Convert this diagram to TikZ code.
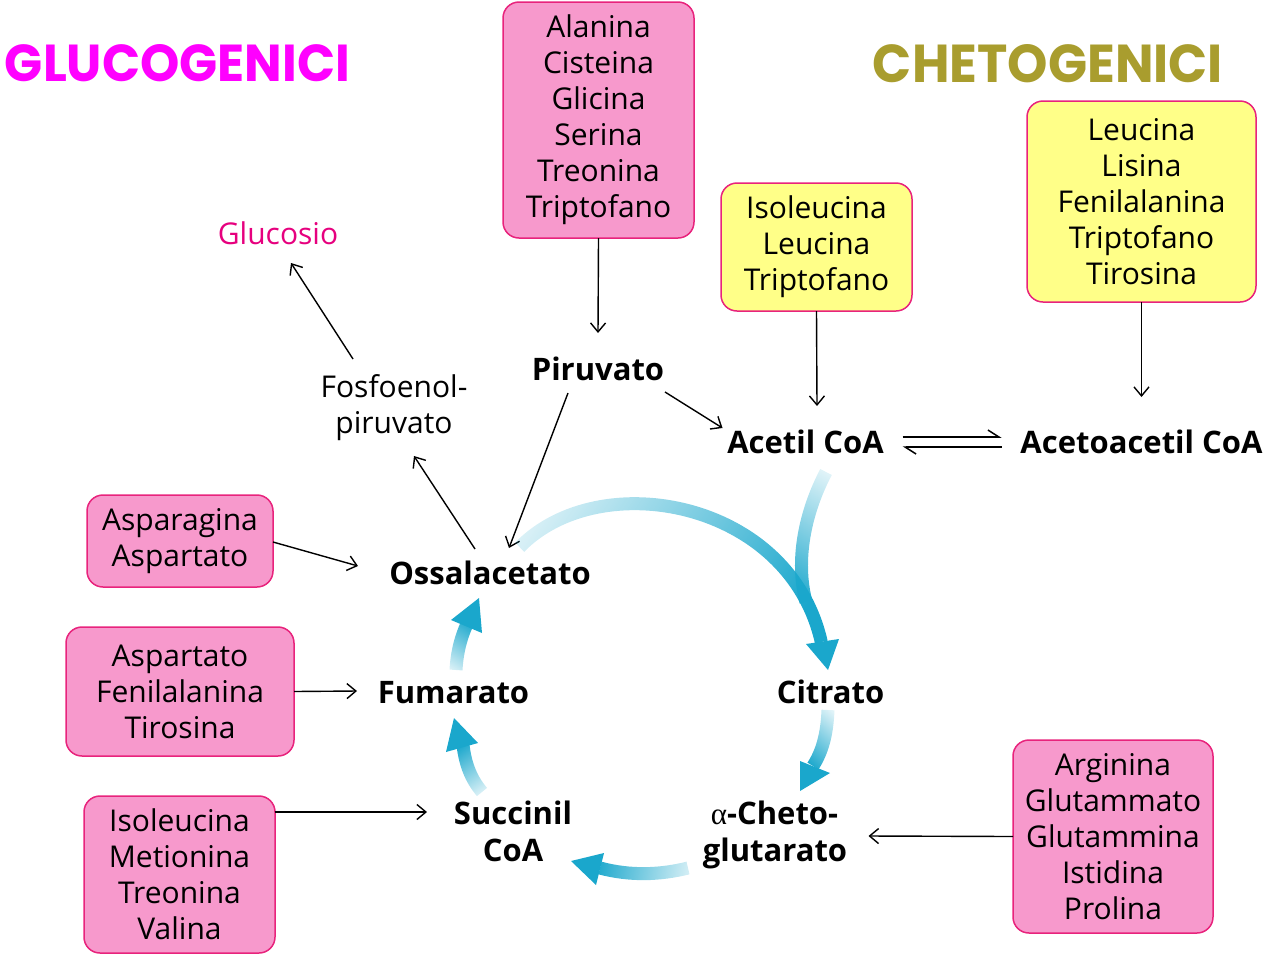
\documentclass[tikz,border=0pt]{standalone}
\usepackage{fontspec}
\usepackage{graphicx}
\setmainfont{Open Sans}
\newfontfamily\titlefont{Poppins}
\newfontfamily\alphafont{Liberation Serif}
\usetikzlibrary{arrows.meta,calc,fadings}
\definecolor{pinkfill}{HTML}{F799CC}
\definecolor{pinkline}{HTML}{E8237C}
\definecolor{yelfill}{HTML}{FFFF88}
\definecolor{glucol}{HTML}{E6007E}
\definecolor{chetcol}{HTML}{A99D2E}
\definecolor{glutcol}{HTML}{FF00FF}
\definecolor{cyc}{HTML}{1AA7CC}
\tikzfading[name=cycfade, left color=transparent!86, right color=transparent!0]
\begin{document}
\begin{tikzpicture}[x=1pt,y=-1pt,
  boxbase/.style={draw=pinkline, line width=1.5pt, rounded corners=16pt, inner sep=0pt, outer sep=0pt, align=center, font=\fontsize{30}{36}\selectfont},
  pinkbox/.style={boxbase, fill=pinkfill},
  yelbox/.style={boxbase, fill=yelfill},
  lbl/.style={inner sep=0pt, outer sep=0pt, anchor=base, font=\fontsize{30}{36}\selectfont},
  blbl/.style={inner sep=0pt, outer sep=0pt, anchor=base, font=\bfseries\fontsize{31}{37}\selectfont},
  thinarr/.style={line width=1.4pt, -{Straight Barb[length=9pt,width=15pt]}},
  harp/.style={line width=1.5pt, -{Straight Barb[left,length=11pt,width=14pt]}},
  cycshaft/.style={draw=cyc, line width=13pt, line cap=butt, path fading=cycfade},
  cychead/.style={fill=cyc, draw=none}
]
\useasboundingbox (0,0) rectangle (1266,954);

% titles
\node[inner sep=0pt, text=glutcol] (tg) at (177.5,63.5) {\resizebox{345pt}{37pt}{\titlefont\bfseries GLUCOGENICI}};
\node[inner sep=0pt, text=chetcol] (tc) at (1048,64) {\resizebox{350pt}{38pt}{\titlefont\bfseries CHETOGENICI}};

% boxes
\node[pinkbox, minimum width=191pt, minimum height=236pt] (b1) at (598.5,120) {Alanina\\Cisteina\\Glicina\\Serina\\Treonina\\Triptofano};
\node[yelbox, minimum width=191pt, minimum height=128pt] (y1) at (816.5,247) {Isoleucina\\Leucina\\Triptofano};
\node[yelbox, minimum width=229pt, minimum height=201pt] (y2) at (1141.5,201.5) {Leucina\\Lisina\\Fenilalanina\\Triptofano\\Tirosina};
\node[pinkbox, minimum width=186pt, minimum height=92pt] (b2) at (180,541) {Asparagina\\Aspartato};
\node[pinkbox, minimum width=228pt, minimum height=129pt] (b3) at (180,691.5) {Aspartato\\Fenilalanina\\Tirosina};
\node[pinkbox, minimum width=191pt, minimum height=157pt] (b4) at (179.5,874.5) {Isoleucina\\Metionina\\Treonina\\Valina};
\node[pinkbox, minimum width=200pt, minimum height=193pt] (b5) at (1113,836.5) {Arginina\\Glutammato\\Glutammina\\Istidina\\Prolina};

% labels
\node[lbl, text=glucol] (gluc) at (278,244) {Glucosio};
\node[lbl] (fos1) at (394,397) {Fosfoenol-};
\node[lbl] (fos2) at (394,433) {piruvato};
\node[blbl] (piruv) at (598,380) {Piruvato};
\node[blbl] (acetil) at (805.5,453) {Acetil CoA};
\node[blbl] (acetoac) at (1141.5,453) {Acetoacetil CoA};
\node[blbl] (ossal) at (490,584) {Ossalacetato};
\node[blbl] (fum) at (453.5,703) {Fumarato};
\node[blbl] (citr) at (830.5,703) {Citrato};
\node[blbl] (succ1) at (513,824) {Succinil};
\node[blbl] (succ2) at (513,861) {CoA};
\node[blbl] (chet1) at (774.5,824) {{\alphafont\mdseries α}-Cheto-};
\node[blbl] (chet2) at (775,861) {glutarato};

% thin arrows
\draw[thinarr] (b1.south) -- ($(piruv.base)+(0,-47)$);
\draw[thinarr] (y1.south) -- ($(acetil.base)+(11.5,-47)$);
\draw[thinarr] (y2.south) -- ($(acetoac.base)+(0,-56)$);
\draw[thinarr] ($(piruv.base)+(67,12)$) -- ($(acetil.base)+(-83,-25)$);
\draw[thinarr] ($(piruv.base)+(-30,13)$) -- ($(ossal.base)+(19,-36)$);
\draw[thinarr] ($(ossal.base)+(-15,-35)$) -- ($(fos2.base)+(20,23)$);
\draw[thinarr] ($(fos1.base)+(-41,-38)$) -- ($(gluc.base)+(13,19)$);
\draw[thinarr] ($(b2.east)+(0,1)$) -- ($(ossal.base)+(-132,-18)$);
\draw[thinarr] (b3.east) -- ($(fum.base)+(-96.5,-12)$);
\draw[thinarr] ($(b4.north east)+(0,16)$) -- ($(succ1.base)+(-86,-12)$);
\draw[thinarr] (b5.west) -- ($(chet1.base)+(94,12)$);

% equilibrium harpoons
\draw[harp] ($(acetil.base)+(97,-16)$) -- ($(acetoac.base)+(-140,-16)$);
\draw[harp] ($(acetoac.base)+(-140,-6)$) -- ($(acetil.base)+(97,-6)$);

% cycle arrows: faded shafts + solid heads
\coordinate (c0) at (520,547);
\coordinate (c1) at (822,642);
\coordinate (br0) at (826,472);
\coordinate (br1) at (806,602);
\coordinate (k0) at (828,710);
\coordinate (k1) at (813,766);
\coordinate (s0) at (688,868);
\coordinate (s1) at (600,868);
\coordinate (f0) at (482,792);
\coordinate (f1) at (463,745);
\coordinate (o0) at (456,670);
\coordinate (o1) at (467,624);

\draw[cycshaft, fading angle=-100] (br0) .. controls (805,512) and (795,560) .. (br1);
\draw[cycshaft, fading angle=-22] (c0) .. controls (600,465) and (790,500) .. (c1);
\fill[cychead] (828,670) -- (806,644) -- (839,639) -- cycle;

\draw[cycshaft, fading angle=-110] (k0) .. controls (827,735) and (822,752) .. (k1);
\fill[cychead] (800,791) -- (800,761) -- (830,773) -- cycle;

\draw[cycshaft, fading angle=178] (s0) .. controls (660,875) and (630,876) .. (s1);
\fill[cychead] (571,861) -- (604,853) -- (596,885) -- cycle;

\draw[cycshaft, fading angle=110] (f0) .. controls (470,778) and (465,762) .. (f1);
\fill[cychead] (454,718) -- (446,752) -- (478,743) -- cycle;

\draw[cycshaft, fading angle=75] (o0) .. controls (457,652) and (461,637) .. (o1);
\fill[cychead] (479,598) -- (451,620) -- (482,633) -- cycle;
\end{tikzpicture}
\end{document}
